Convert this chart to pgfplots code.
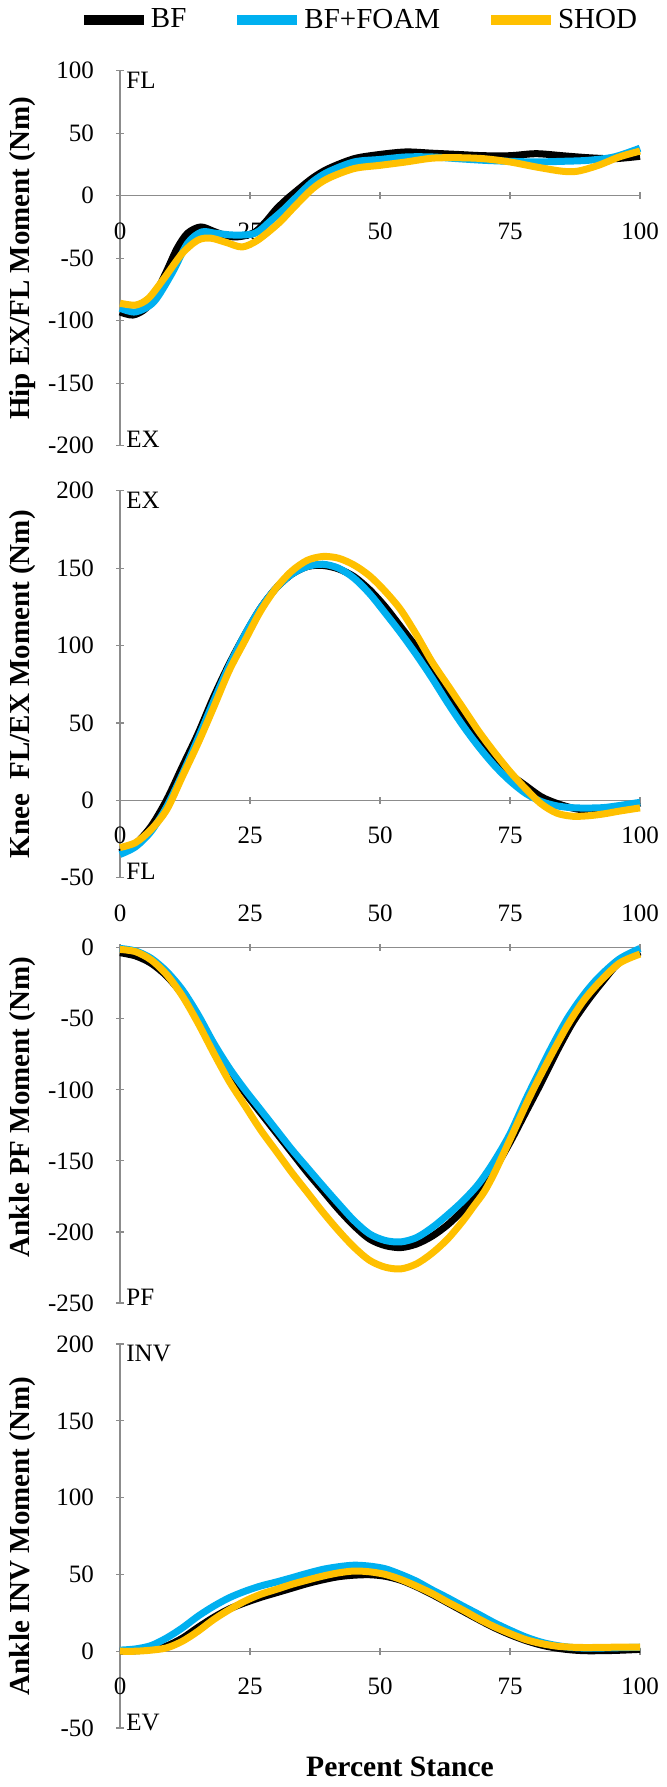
\documentclass[border=0pt]{standalone}
\usepackage{fontspec}
\setmainfont{Liberation Serif}
\usepackage{pgfplots}
\pgfplotsset{compat=1.18}
\definecolor{bfblue}{HTML}{00B0F0}
\definecolor{shod}{HTML}{FFC000}
\definecolor{axgray}{HTML}{8C8C8C}
\tikzset{corner/.style={inner sep=0pt, font=\fontsize{12.5}{12.5}\selectfont}}
\pgfplotsset{
  panel/.style={
    scale only axis, width=260pt, anchor=north west,
    xmin=0, xmax=100, xtick={0,25,50,75,100},
    enlargelimits=false, clip=false,
    axis line style={axgray, line width=0.6pt, -},
    tick style={axgray, line width=0.6pt},
    major tick length=3.5pt,
    tick align=outside,
    hide obscured x ticks=false, hide obscured y ticks=false,
    tick label style={font=\fontsize{12.5}{12.5}\selectfont},
    /pgf/number format/assume math mode=true,
    yticklabel style={anchor=east, xshift=-7.8pt},
    every axis plot/.append style={line width=3.5pt, smooth, line cap=butt, line join=round},
    every axis y label/.style={at={(rel axis cs:0,0.5)}, xshift=-48.5pt, rotate=90, anchor=center,
      font=\bfseries\fontsize{14.5}{14.5}\selectfont},
  },
}
\begin{document}
\begin{tikzpicture}
\path[use as bounding box] (0,0) rectangle (333.5pt,-893.5pt);

% ---------------- Hip ----------------
\begin{axis}[panel, at={(60pt,-35.35pt)}, height=187.5pt,
  axis x line=middle, axis y line=left,
  axis line style={axgray, line width=0.6pt, -},
  ymin=-200, ymax=100, ytick={-200,-150,...,100},
  xticklabel style={anchor=center, yshift=-16pt},
  ylabel={Hip EX/FL Moment (Nm)},
  legend columns=3,
  legend style={draw=none, fill=none, inner sep=0pt, outer sep=0pt,
    at={(rel axis cs:0,1)}, anchor=west, xshift=-20.5pt, yshift=25.35pt,
    font=\fontsize{14.5}{14.5}\selectfont,
    nodes={inner sep=1pt},
    /tikz/every even column/.append style={column sep=22pt}},
  legend image code/.code={\draw[#1, line width=5pt, line cap=butt] (0pt,0pt) -- (30pt,0pt);},
]
\addplot[black] coordinates {(0,-93)(2.5,-95.5)(5,-90)(7,-77)(9,-60)(11,-42)(13,-30)(15.5,-25)(18,-28.5)(20,-31.5)(22,-33)(24,-32)(26,-29)(28,-21)(30,-11)(32,-3)(34,4)(37,14)(40,21.5)(45,29.6)(50,33)(55,35)(60,34)(65,33)(70,32)(75,32)(80,33.6)(85,32)(90,30.4)(95,29.6)(100,31.5)};
\addlegendentry{BF}
\addplot[bfblue] coordinates {(0,-90)(3,-93)(6.5,-85)(10,-62)(13,-38)(15.7,-29)(18.3,-30)(22,-31.5)(26,-30)(29,-20)(31.5,-11)(33.7,-2)(37,11)(40,19)(45,27)(50,29)(55,31)(60,31)(65,29.6)(70,28.3)(75,27.5)(80,27)(85,27.5)(90,28.3)(95,31)(100,38)};
\addlegendentry{BF+FOAM}
\addplot[shod] coordinates {(0,-86)(3,-87.5)(5.5,-82)(8.5,-66)(12,-46)(15,-35.5)(17.5,-34)(20.5,-37.5)(23.5,-41)(26.5,-35.5)(30.5,-22)(33.5,-9)(37,5.5)(40,13.8)(45,21.7)(50,24.3)(55,27)(60,30)(65,30.4)(70,29.6)(75,27)(80,23)(85,19.6)(88,19.6)(92,24.3)(96,31)(100,35.7)};
\addlegendentry{SHOD}
\node[corner, anchor=north west, xshift=3pt, yshift=-0.5pt] at (rel axis cs:0,1) {FL};
\node[corner, anchor=base west, xshift=3pt, yshift=-1pt] at (rel axis cs:0,0) {EX};
\end{axis}

% ---------------- Knee ----------------
\begin{axis}[panel, at={(60pt,-245.35pt)}, height=193.5pt,
  axis x line=middle, axis y line=left,
  axis line style={axgray, line width=0.6pt, -},
  ymin=-50, ymax=200, ytick={-50,0,...,200},
  xticklabel style={anchor=center, yshift=-16pt},
  ylabel={Knee\ \ FL/EX Moment (Nm)},
]
\addplot[black] coordinates {(0,-33.8)(3,-28)(6,-16.7)(9,0.4)(12,21.8)(15,43)(18,66.7)(21,88)(24,107)(27,124)(30,137)(33,146)(36,151)(39,151.7)(42,149.5)(45,144.5)(48,136)(51,125)(54,112)(57,99)(60,86)(63,70)(66,55)(69,40)(72,27.5)(75,17)(78,9.5)(81,2.3)(84,-2)(87,-5)(90,-6.7)(93,-7)(96,-5.6)(100,-1.7)};
\addplot[bfblue] coordinates {(0,-35)(3,-30)(6,-20)(9,-4)(12,17)(15,40)(18,64)(21,87)(24,107)(27,124)(30,137)(33,146)(36,151)(39,152.5)(42,150)(45,143.5)(48,133.5)(51,121)(54,108)(57,94)(60,79)(63,63)(66,48)(69,34.5)(72,22.5)(75,12.5)(78,4.5)(81,-0.8)(84,-3.6)(87,-4.8)(90,-5)(93,-4.7)(96,-3.4)(100,-1.3)};
\addplot[shod] coordinates {(0,-30.5)(3,-27.3)(6,-18.8)(9,-6)(12,15.4)(15,36.8)(18,60)(21,83.8)(24,103)(27,122)(30,137)(33,148)(36,155)(39,157.5)(42,156.4)(45,152)(48,145)(51,135)(54,123)(57,107)(60,89.5)(63,74.5)(66,59.5)(69,44.5)(72,31)(75,18.5)(78,7.5)(81,-2.3)(84,-8.3)(87,-10.3)(90,-10)(93,-8.8)(96,-7)(100,-4.9)};
\node[corner, anchor=north west, xshift=3pt, yshift=-0.5pt] at (rel axis cs:0,1) {EX};
\node[corner, anchor=base west, xshift=3pt, yshift=-1pt] at (rel axis cs:0,0) {FL};
\end{axis}

% ---------------- Ankle PF ----------------
\begin{axis}[panel, at={(60pt,-473.85pt)}, height=177.65pt,
  axis x line=top, axis y line=left,
  axis line style={axgray, line width=0.6pt, -},
  ymin=-250, ymax=0, ytick={-250,-200,...,0},
  xticklabel style={anchor=center, yshift=15.35pt},
  every axis y label/.append style={at={(rel axis cs:0,0.552)}},
  ylabel={Ankle PF Moment (Nm)},
]
\addplot[black] coordinates {(0,-3.5)(3,-5.8)(6,-11)(9,-20)(12,-33)(15,-50.7)(18,-69)(21,-87)(24,-102)(27,-116)(30,-130)(33,-144)(36,-158)(39,-171)(42,-184)(45,-195.6)(48,-205)(51,-209.6)(54,-211)(57,-208.5)(60,-203)(63,-195)(66,-184.5)(69,-172)(72,-156)(75,-137)(78,-116)(81,-95)(84,-73)(87,-53)(90,-37)(93,-23)(96,-10.5)(100,-3)};
\addplot[bfblue] coordinates {(0,-0.5)(3,-2.3)(6,-7.5)(9,-16.8)(12,-29.7)(15,-47)(18,-67)(21,-84.6)(24,-99.8)(27,-113.8)(30,-127.8)(33,-141.8)(36,-154.7)(39,-167.5)(42,-180)(45,-192)(48,-201.4)(51,-206)(54,-207)(57,-204)(60,-197)(63,-188)(66,-178)(69,-166)(72,-150)(75,-131)(78,-107)(80,-92)(83,-70)(86,-50)(89,-34)(92,-21)(96,-8)(100,-0.5)};
\addplot[shod] coordinates {(0,-1.2)(3,-2.8)(6,-8.6)(9,-19)(12,-34)(15,-53)(18,-74)(21,-94)(24,-111)(27,-128)(30,-143)(33,-158)(36,-172)(39,-186)(42,-199)(45,-210.7)(48,-220)(51,-224.8)(54,-226)(57,-222.5)(60,-215)(63,-205)(66,-192)(68,-182)(70,-172)(72,-158.5)(75,-135)(78,-111)(80,-96)(83,-75)(86,-55)(89,-38)(92,-25)(96,-11)(100,-4.5)};
\node[corner, anchor=base west, xshift=3pt, yshift=-1pt] at (rel axis cs:0,0) {PF};
\end{axis}

% ---------------- Ankle INV ----------------
\begin{axis}[panel, at={(60pt,-672pt)}, height=192pt,
  axis x line=middle, axis y line=left,
  axis line style={axgray, line width=0.6pt, -},
  ymin=-50, ymax=200, ytick={-50,0,...,200},
  xticklabel style={anchor=center, yshift=-15.7pt},
  ylabel={Ankle INV Moment (Nm)},
  xlabel={Percent Stance},
  every axis x label/.style={at={(rel axis cs:0.5,0)}, anchor=center, xshift=10pt, yshift=-19.5pt,
    font=\bfseries\fontsize{14.8}{14.8}\selectfont},
]
\addplot[black] coordinates {(0,0)(3,0.3)(6,1.2)(9,3.5)(12,8.5)(15,15.5)(18,22)(21,27.5)(24,31.5)(27,35)(30,38)(33,41)(36,44)(39,46.5)(42,48.5)(45,49.5)(48,49.8)(51,48.8)(54,46.2)(57,42)(60,37)(63,31.5)(66,26)(69,20.5)(72,15.3)(75,10.8)(78,7)(81,4)(84,2)(87,0.8)(90,0.3)(95,0.5)(100,1.2)};
\addplot[bfblue] coordinates {(0,0.7)(3,1.5)(6,3.7)(9,8.7)(12,15.2)(15,22.8)(18,29.3)(21,34.8)(24,39)(27,42.4)(30,45)(33,47.8)(36,50.7)(39,53.3)(42,55)(45,56)(48,55.4)(51,53.7)(54,50)(57,45.6)(60,40)(63,34.8)(66,29.3)(69,24)(72,18.5)(75,13.7)(78,9.3)(81,5.9)(84,3.7)(87,2.4)(90,2)(95,2.2)(100,2.6)};
\addplot[shod] coordinates {(0,0)(3,0)(6,0.7)(9,2.2)(12,6.5)(15,13)(18,20.6)(21,27)(24,32.6)(27,37)(30,40.2)(33,43.5)(36,46.3)(39,48.9)(42,51)(45,52.2)(48,51.7)(51,50)(54,46.7)(57,42.4)(60,37.6)(63,32)(66,26.7)(69,21)(72,15.9)(75,11.5)(78,7.6)(81,5)(84,3.3)(87,2.6)(90,2.4)(95,2.6)(100,2.6)};
\node[corner, anchor=north west, xshift=3pt, yshift=-0.5pt] at (rel axis cs:0,1) {INV};
\node[corner, anchor=base west, xshift=3pt, yshift=-1pt] at (rel axis cs:0,0) {EV};
\end{axis}
\end{tikzpicture}
\end{document}
